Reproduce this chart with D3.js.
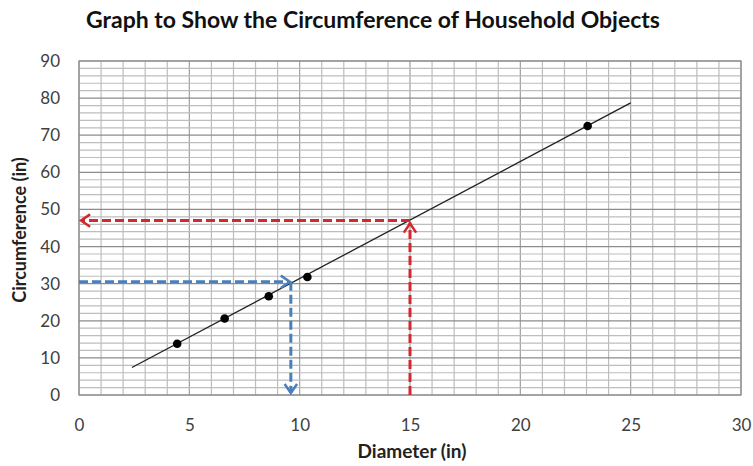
<!DOCTYPE html>
<html><head><meta charset="utf-8">
<script src="https://cdn.jsdelivr.net/npm/d3@7"></script>
<style>body{margin:0;background:#fff}svg{display:block}</style>
</head><body>
<svg id="c" width="753" height="466"></svg>
<script>
const pointDiameter = [4.45, 6.6, 8.6, 10.35, 23.05];
const pointCircumference = [13.8, 20.6, 26.6, 31.8, 72.5];
const trendDiameter = [2.4, 25];
const trendCircumference = [7.4, 78.7];
const redDiameter = 15, redCircumference = 47;
const blueDiameter = 9.6, blueCircumference = 30.5;
const xTicks = [0,5,10,15,20,25,30];
const yTicks = [0,10,20,30,40,50,60,70,80,90];

const svg = d3.select("#c");
const L = 79, R = 741, T = 61, B = 395;
const x = d3.scaleLinear().domain([0,30]).range([L,R]);
const y = d3.scaleLinear().domain([0,90]).range([B,T]);
const font = "Lato, 'Open Sans', sans-serif";

// grid
const g = svg.append("g");
g.selectAll(".vx").data(d3.range(0,31,1)).join("line")
  .attr("x1",d=>x(d)).attr("x2",d=>x(d)).attr("y1",T).attr("y2",B)
  .attr("stroke",d=>d%5===0?"#a0a0a0":"#bdbdbd").attr("stroke-width",1.2);
g.selectAll(".hy").data(d3.range(0,91,2)).join("line")
  .attr("y1",d=>y(d)).attr("y2",d=>y(d)).attr("x1",L).attr("x2",R)
  .attr("stroke",d=>d%10===0?"#8c8c8c":"#bdbdbd").attr("stroke-width",1.2);
g.append("rect").attr("x",L).attr("y",T).attr("width",R-L).attr("height",B-T)
  .attr("fill","none").attr("stroke","#8c8c8c").attr("stroke-width",1.2);

// axes labels
const xa = svg.append("g").attr("transform",`translate(0,${B})`)
  .call(d3.axisBottom(x).tickValues(xTicks).tickSize(0).tickPadding(24));
xa.select(".domain").remove();
xa.selectAll("text").attr("font-family",font).attr("font-size",17).attr("fill","#404040");
const ya = svg.append("g").attr("transform",`translate(${L},0)`)
  .call(d3.axisLeft(y).tickValues(yTicks).tickSize(0).tickPadding(19));
ya.select(".domain").remove();
ya.selectAll("text").attr("font-family",font).attr("font-size",17).attr("fill","#404040");

svg.append("text").attr("x",373).attr("y",28).attr("text-anchor","middle")
  .attr("font-family",font).attr("font-weight","bold").attr("font-size",23).attr("fill","#111")
  .text("Graph to Show the Circumference of Household Objects");
svg.append("text").attr("x",412).attr("y",458).attr("text-anchor","middle")
  .attr("font-family",font).attr("font-weight","bold").attr("font-size",19).attr("fill","#222")
  .text("Diameter (in)");
svg.append("text").attr("transform","translate(26,230) rotate(-90)").attr("text-anchor","middle")
  .attr("font-family",font).attr("font-weight","bold").attr("font-size",18).attr("fill","#222")
  .text("Circumference (in)");

// trend line
svg.append("line").attr("x1",x(trendDiameter[0])).attr("y1",y(trendCircumference[0]))
  .attr("x2",x(trendDiameter[1])).attr("y2",y(trendCircumference[1]))
  .attr("stroke","#222").attr("stroke-width",1.3);

// points
svg.selectAll(".pt").data(pointDiameter).join("circle")
  .attr("cx",d=>x(d)).attr("cy",(d,i)=>y(pointCircumference[i])).attr("r",4.3).attr("fill","#000");

// arrows
function dashed(x1,y1,x2,y2,col){
  svg.append("line").attr("x1",x1).attr("y1",y1).attr("x2",x2).attr("y2",y2)
    .attr("stroke",col).attr("stroke-width",3).attr("stroke-dasharray","9,4");
}
function head(px,py,dir,col){
  const a = dir*Math.PI/180, len=11, w=0.6;
  const p1=[px-len*Math.cos(a-w), py-len*Math.sin(a-w)];
  const p2=[px-len*Math.cos(a+w), py-len*Math.sin(a+w)];
  svg.append("path").attr("d",`M${p1}L${px},${py}L${p2}`).attr("fill","none")
    .attr("stroke",col).attr("stroke-width",2.5).attr("stroke-linejoin","miter");
}
const red="#d2282e", blue="#4a7fba";
dashed(x(redDiameter),B,x(redDiameter),y(redCircumference)+2,red);
head(x(redDiameter),y(redCircumference)+3,-90,red);
dashed(x(redDiameter),y(redCircumference),x(0)+2,y(redCircumference),red);
head(x(0)+2,y(redCircumference),180,red);
dashed(x(0),y(blueCircumference),x(blueDiameter)-2,y(blueCircumference),blue);
head(x(blueDiameter)-1,y(blueCircumference),0,blue);
dashed(x(blueDiameter),y(blueCircumference),x(blueDiameter),B-2,blue);
head(x(blueDiameter),B-2,90,blue);
</script>
</body></html>
